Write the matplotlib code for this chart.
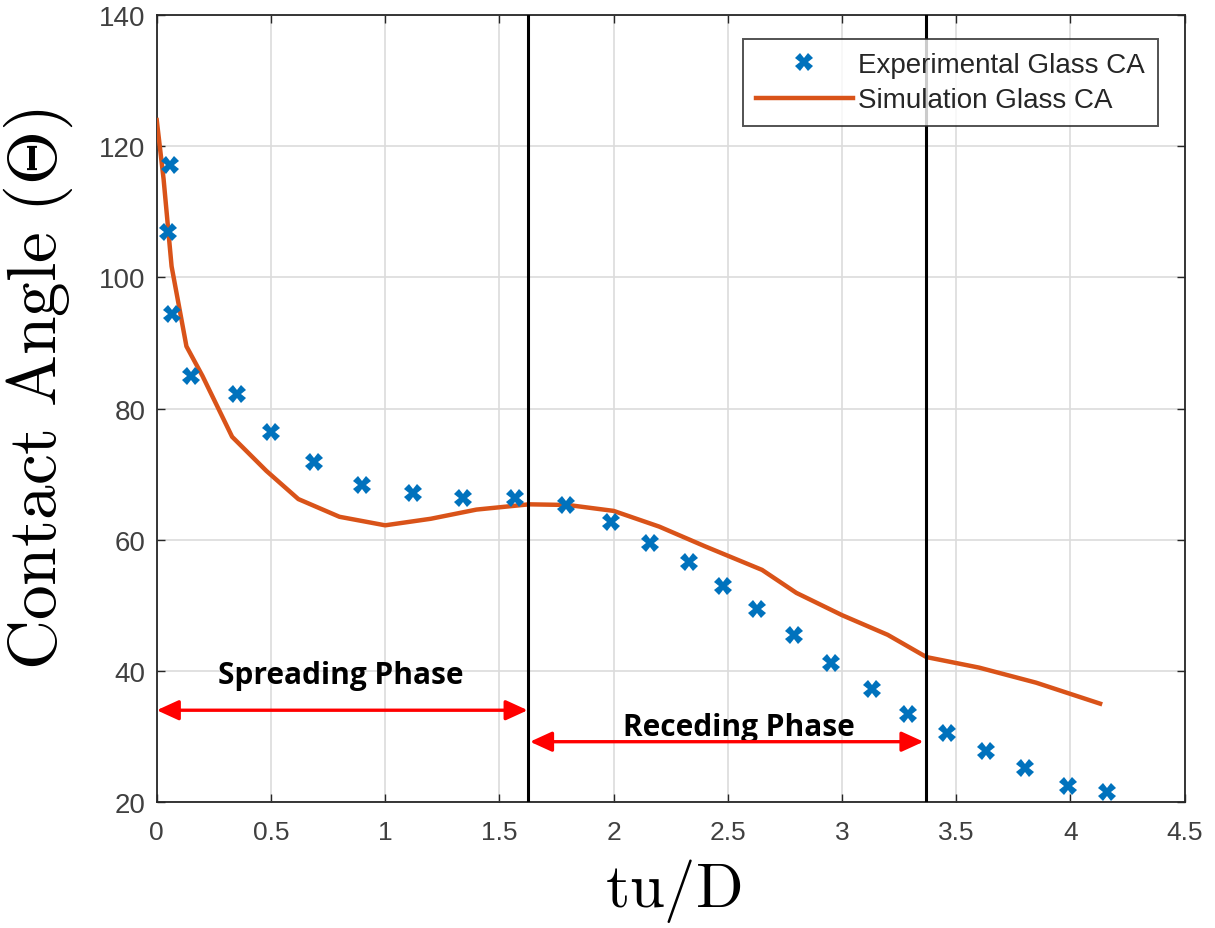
import matplotlib
matplotlib.use("Agg")
import matplotlib.pyplot as plt

plt.rcParams['mathtext.fontset'] = 'cm'

# Experimental data
exp_x = [0.057, 0.048, 0.065, 0.15, 0.35, 0.50, 0.69, 0.90, 1.12, 1.34, 1.57, 1.79,
         1.99, 2.16, 2.33, 2.48, 2.63, 2.79, 2.95, 3.13, 3.29, 3.46, 3.63, 3.80, 3.99, 4.16]
exp_y = [117.1, 107.0, 94.4, 85.0, 82.2, 76.5, 71.8, 68.4, 67.1, 66.3, 66.3, 65.3,
         62.7, 59.5, 56.6, 53.0, 49.4, 45.5, 41.2, 37.2, 33.5, 30.6, 27.8, 25.2, 22.5, 21.5]

# Simulation data
sim_x = [0.0, 0.03, 0.065, 0.13, 0.20, 0.33, 0.48, 0.62, 0.80, 1.00, 1.20, 1.40, 1.63,
         1.80, 2.00, 2.20, 2.40, 2.65, 2.80, 3.00, 3.20, 3.37, 3.60, 3.85, 4.13]
sim_y = [124.0, 115.0, 101.7, 89.5, 85.0, 75.7, 70.5, 66.2, 63.5, 62.2, 63.2, 64.6, 65.4,
         65.3, 64.4, 62.0, 59.0, 55.4, 51.9, 48.5, 45.5, 42.1, 40.5, 38.2, 35.0]

phase_lines = [1.624, 3.367]
xticks = [0, 0.5, 1, 1.5, 2, 2.5, 3, 3.5, 4, 4.5]
xtick_labels = ['0', '0.5', '1', '1.5', '2', '2.5', '3', '3.5', '4', '4.5']
yticks = [20, 40, 60, 80, 100, 120, 140]

fig = plt.figure(figsize=(12.15, 9.29), dpi=100)
ax = fig.add_axes([0.129, 0.1356, 0.846, 0.847])

ax.plot(exp_x, exp_y, linestyle='none', marker='X', markersize=12.5, color='#0072BD',
        markeredgewidth=0, label='Experimental Glass CA', zorder=4)
ax.plot(sim_x, sim_y, color='#D95319', linewidth=3.2, label='Simulation Glass CA', zorder=3)

for xv in phase_lines:
    ax.axvline(xv, color='black', linewidth=2.2, zorder=5)

arrow_props = dict(arrowstyle='<|-|>,head_length=0.7,head_width=0.32', color='#ff0000',
                   lw=2.4, mutation_scale=19, shrinkA=0, shrinkB=0)
ax.annotate('', xy=(0.0, 34.0), xytext=(phase_lines[0], 34.0),
            arrowprops=arrow_props, zorder=6)
ax.annotate('', xy=(phase_lines[0] + 0.01, 29.2), xytext=(phase_lines[1] - 0.01, 29.2),
            arrowprops=arrow_props, zorder=6)
ax.text(0.806, 39.4, 'Spreading Phase', ha='center', va='center', fontsize=21.5,
        fontweight='bold', family='Open Sans')
ax.text(2.55, 31.5, 'Receding Phase', ha='center', va='center', fontsize=21.5,
        fontweight='bold', family='Open Sans')

ax.set_xlim(0, 4.5)
ax.set_ylim(20, 140)
ax.set_xticks(xticks)
ax.set_xticklabels(xtick_labels, fontsize=19, family='Liberation Sans', color='#404040')
ax.set_yticks(yticks)
ax.set_yticklabels([str(v) for v in yticks], fontsize=20, family='Liberation Sans',
                   color='#404040')
ax.tick_params(direction='in', length=6, top=True, right=True, colors='#262626', width=1)
ax.tick_params(axis='x', pad=13, labelcolor='#404040')
ax.tick_params(axis='y', pad=8, labelcolor='#404040')

ax.grid(True, color='#dcdcdc', linewidth=1.2)
ax.set_axisbelow(True)
for sp in ax.spines.values():
    sp.set_color('#262626')
    sp.set_linewidth(1.3)

ax.set_xlabel(r'$\mathrm{tu/D}$', fontsize=45)
ax.xaxis.set_label_coords(0.502, -0.068)
ax.set_ylabel(r'$\mathrm{Contact\ Angle\ (\Theta)}$', fontsize=50)
ax.yaxis.set_label_coords(-0.08, 0.526)

leg = ax.legend(loc='upper right', bbox_to_anchor=(0.9737, 0.9695), borderaxespad=0,
                frameon=True, fancybox=False, edgecolor='#262626', handlelength=3.5,
                handletextpad=0.2, labelspacing=0.35, borderpad=0.45,
                prop={'family': 'Liberation Sans', 'size': 20})
leg.get_frame().set_linewidth(1.4)
for t in leg.get_texts():
    t.set_color('#262626')

fig.savefig('out.png', dpi=100)
